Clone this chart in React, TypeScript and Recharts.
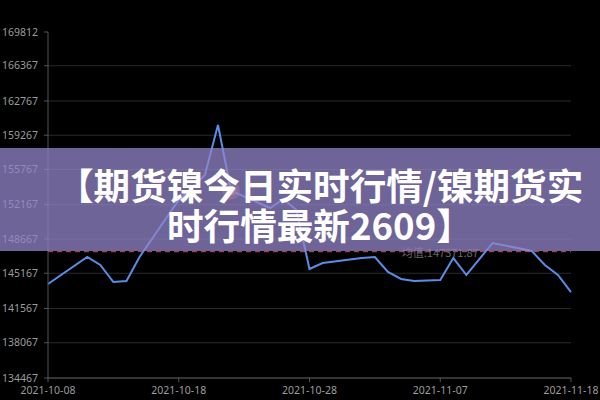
import React from 'react'
import {
  LineChart,
  Line,
  XAxis,
  YAxis,
  CartesianGrid,
  ReferenceLine,
  ReferenceDot,
} from 'recharts'

// 镍期货日线 — 读图估算的数据
const dayIndex = [0, 3, 4, 5, 6, 7, 10, 11, 12, 13, 14, 17, 18, 19, 20, 21, 24, 25, 26, 27, 28, 30, 31, 32, 34, 37, 38, 39, 40]
const prices = [
  144070, 146830, 146010, 144270, 144380, 146830, 152650, 153880, 155200, 160310,
  153600, 151830, 152750, 151630, 145600, 146210, 146720, 146830, 145300, 144580,
  144380, 144480, 146720, 144990, 148260, 147440, 146010, 144990, 143250,
]
const yTicks = [134467, 138067, 141567, 145167, 148667, 152167, 155767, 159267, 162767, 166367, 169812]
const xTicks = [0, 10, 20, 30, 40]
const xTickLabels = ['2021-10-08', '2021-10-18', '2021-10-28', '2021-11-07', '2021-11-18']
const avgPrice = 147371.87
const highlightIdx = 10

const titleLine1 = '【期货镍今日实时行情/镍期货实'
const titleLine2 = '时行情最新2609】'

const data = dayIndex.map((d, i) => ({ day: d, price: prices[i] }))

const axisFont = { fontSize: 10.5, fill: '#9c9c9c', fontFamily: '"Noto Sans", sans-serif' }

function AvgLabel(props: any) {
  const vb = props.viewBox
  if (!vb) return null
  return (
    <text
      x={vb.x + vb.width * 0.75}
      y={vb.y}
      textAnchor="middle"
      dominantBaseline="central"
      fontSize={11}
      fill="#6a6a6a"
      fontFamily='"Noto Sans CJK SC", sans-serif'
    >
      {`均值:${avgPrice}`}
    </text>
  )
}

const titleStyle: React.CSSProperties = {
  position:   'absolute',
  fontFamily: '"Noto Sans CJK SC", sans-serif',
  fontWeight: 700,
  fontSize:   36.6,
  lineHeight: '44px',
  color:      '#fff',
  whiteSpace: 'nowrap',
}

export default function App() {
  return (
    <div
      style={{
        position:   'absolute',
        left:       0,
        top:        0,
        width:      600,
        height:     400,
        background: '#000',
        overflow:   'hidden',
      }}
    >
      <LineChart
        width={600}
        height={400}
        data={data}
        margin={{ top: 32, right: 29, left: 0, bottom: 0 }}
      >
        <CartesianGrid
          horizontal
          vertical={false}
          stroke="#2a2a2a"
          horizontalValues={yTicks.slice(0, -1)}
        />
        <XAxis
          dataKey="day"
          type="number"
          domain={[0, 40]}
          ticks={xTicks}
          tickFormatter={(v: number) => xTickLabels[xTicks.indexOf(v)] ?? ''}
          height={22}
          tick={axisFont}
          stroke="#555"
          tickSize={4}
          tickMargin={5}
          interval={0}
        />
        <YAxis
          type="number"
          domain={[134467, 169812]}
          ticks={yTicks}
          width={48}
          tick={axisFont}
          stroke="#555"
          tickSize={4}
          tickMargin={6}
          interval={0}
        />
        <ReferenceLine
          y={avgPrice}
          stroke="#d9485f"
          strokeDasharray="5 4"
          label={<AvgLabel />}
        />
        <Line
          type="linear"
          dataKey="price"
          stroke="#5a8de8"
          strokeWidth={2}
          dot={false}
          isAnimationActive={false}
        />
        <ReferenceDot
          x={dayIndex[highlightIdx]}
          y={prices[highlightIdx]}
          r={9}
          fill="#ff7040"
          fillOpacity={0.4}
          stroke="none"
        />
        <ReferenceDot
          x={dayIndex[highlightIdx]}
          y={prices[highlightIdx]}
          r={5}
          fill="#ff5a30"
          stroke="none"
        />
      </LineChart>

      {/* 标题横幅 */}
      <div
        style={{
          position:   'absolute',
          left:       0,
          top:        148,
          width:      600,
          height:     103,
          background: 'rgba(145,132,200,0.76)',
        }}
      />
      <div style={{ ...titleStyle, left: 57, top: 163 }}>{titleLine1}</div>
      <div style={{ ...titleStyle, left: 167, top: 203 }}>{titleLine2}</div>
    </div>
  )
}
